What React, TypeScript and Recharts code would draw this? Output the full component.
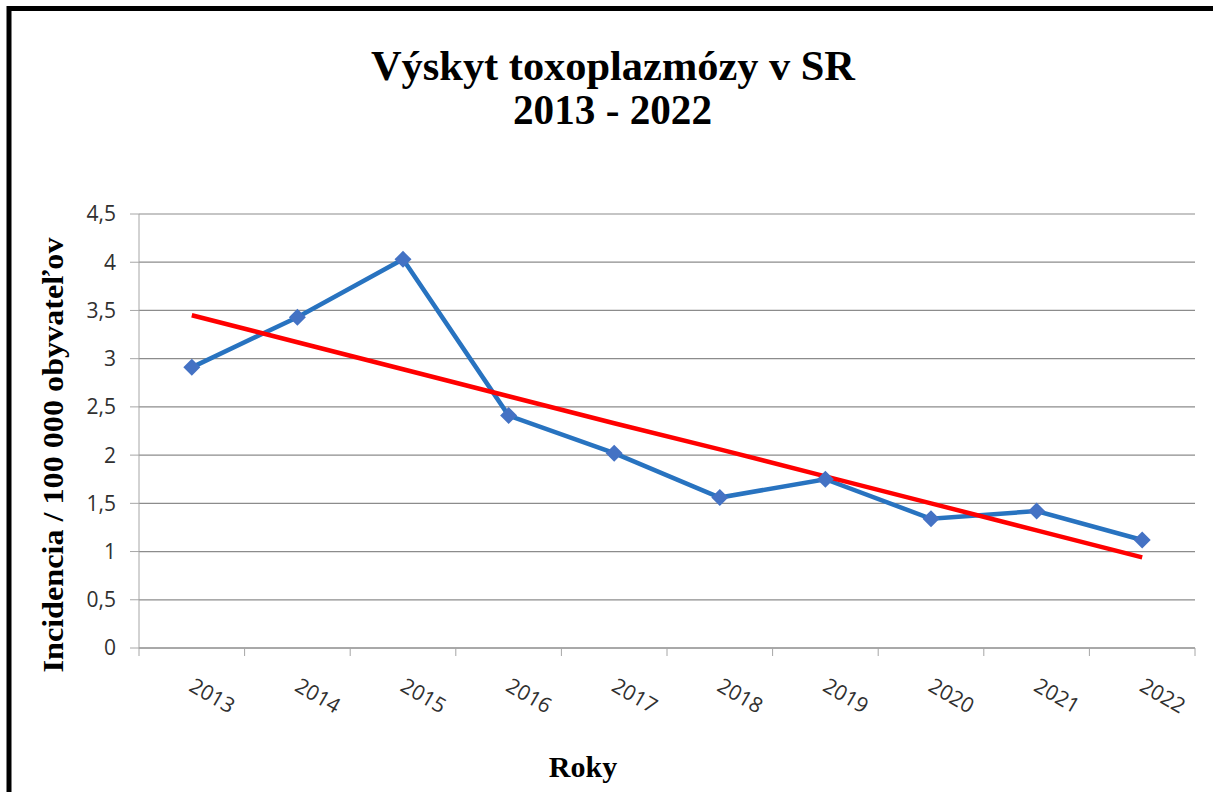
import { LineChart, Line, XAxis, YAxis, CartesianGrid } from 'recharts';

// Values
const years = ['2013', '2014', '2015', '2016', '2017', '2018', '2019', '2020', '2021', '2022'];
const incidence = [2.91, 3.43, 4.03, 2.41, 2.02, 1.56, 1.75, 1.34, 1.42, 1.12];
const trend = [3.45, 3.17, 2.89, 2.61, 2.33, 2.06, 1.78, 1.5, 1.22, 0.94];
const yTicks = [0, 0.5, 1, 1.5, 2, 2.5, 3, 3.5, 4, 4.5];

// each year sits in the middle of its slot; slot edges get the tick marks
const data = years.map((year, i) => ({
    year,
    pos: i + 0.5,
    incidence: incidence[i],
    trend: trend[i]
}));
const xTicks: number[] = [];
for (let i = 0; i <= years.length * 2; i++) xTicks.push(i / 2);

const GRID = '#8c8c8c';
const AXIS = '#a6a6a6';
const TEXT = '#303030';
const LABEL_FONT = '"Open Sans", sans-serif';
const SERIF = '"Liberation Serif", "Times New Roman", serif';

const YearTick = (props: any) => {
    const { x, y, payload } = props;
    const v = payload.value;
    if (Number.isInteger(v)) {
        return <line x1={x} y1={y} x2={x} y2={y + 8} stroke={AXIS} strokeWidth={1} />;
    }
    const tx = x - 4;
    const ty = y + 42;
    return (
        <text
            x={tx}
            y={ty}
            transform={`rotate(30 ${tx} ${ty})`}
            textAnchor="start"
            fontFamily={LABEL_FONT}
            fontSize={21}
            fill={TEXT}
        >
            {years[Math.floor(v)]}
        </text>
    );
};

const Diamond = (props: any) => {
    const { cx, cy, index } = props;
    if (cx == null || cy == null) return <g key={`d-${index}`} />;
    const r = 8.5;
    return (
        <polygon
            key={`d-${index}`}
            points={`${cx},${cy - r} ${cx + r},${cy} ${cx},${cy + r} ${cx - r},${cy}`}
            fill="#4472C4"
        />
    );
};

export default function App() {
    return (
        <div style={{ position: 'absolute', left: 0, top: 0, width: 1213, height: 792, background: '#fff' }}>
            <LineChart
                width={1213}
                height={792}
                data={data}
                margin={{ top: 214, right: 18, bottom: 0, left: 0 }}
            >
                <CartesianGrid vertical={false} stroke={GRID} strokeWidth={1.2} />
                <XAxis
                    dataKey="pos"
                    type="number"
                    domain={[0, 10]}
                    ticks={xTicks}
                    interval={0}
                    height={144}
                    tickSize={0}
                    tickMargin={0}
                    tickLine={false}
                    stroke={GRID}
                    tick={<YearTick />}
                    allowDataOverflow
                />
                <YAxis
                    domain={[0, 4.5]}
                    ticks={yTicks}
                    interval={0}
                    width={139}
                    tickSize={9}
                    tickMargin={14}
                    stroke={AXIS}
                    tickFormatter={(v: number) => String(v).replace('.', ',')}
                    tick={{ fill: TEXT, fontSize: 21, fontFamily: LABEL_FONT }}
                />
                <Line
                    type="linear"
                    dataKey="incidence"
                    stroke="#2873C0"
                    strokeWidth={4.5}
                    dot={(p: any) => <Diamond {...p} key={`d-${p.index}`} />}
                    activeDot={false}
                    isAnimationActive={false}
                />
                <Line
                    type="linear"
                    dataKey="trend"
                    stroke="#FF0000"
                    strokeWidth={4.5}
                    dot={false}
                    activeDot={false}
                    isAnimationActive={false}
                />
            </LineChart>

            <svg
                width={1213}
                height={792}
                style={{ position: 'absolute', left: 0, top: 0, pointerEvents: 'none' }}
            >
                {/* frame */}
                <path d="M9,792 V8.5 H1213" fill="none" stroke="#000" strokeWidth={5} />

                <text
                    x={613}
                    y={80}
                    textAnchor="middle"
                    fontFamily={SERIF}
                    fontWeight="bold"
                    fontSize={43}
                    textLength={484}
                    lengthAdjust="spacingAndGlyphs"
                    fill="#000"
                >
                    Výskyt toxoplazmózy v SR
                </text>
                <text
                    x={612.5}
                    y={124}
                    textAnchor="middle"
                    fontFamily={SERIF}
                    fontWeight="bold"
                    fontSize={43}
                    textLength={199}
                    lengthAdjust="spacingAndGlyphs"
                    fill="#000"
                >
                    2013 - 2022
                </text>

                <text
                    x={63}
                    y={455}
                    transform="rotate(-90 63 455)"
                    textAnchor="middle"
                    fontFamily={SERIF}
                    fontWeight="bold"
                    fontSize={30}
                    textLength={435}
                    lengthAdjust="spacingAndGlyphs"
                    fill="#000"
                >
                    Incidencia / 100 000 obyvateľov
                </text>

                <text
                    x={583}
                    y={777}
                    textAnchor="middle"
                    fontFamily={SERIF}
                    fontWeight="bold"
                    fontSize={30}
                    fill="#000"
                >
                    Roky
                </text>
            </svg>
        </div>
    );
}
